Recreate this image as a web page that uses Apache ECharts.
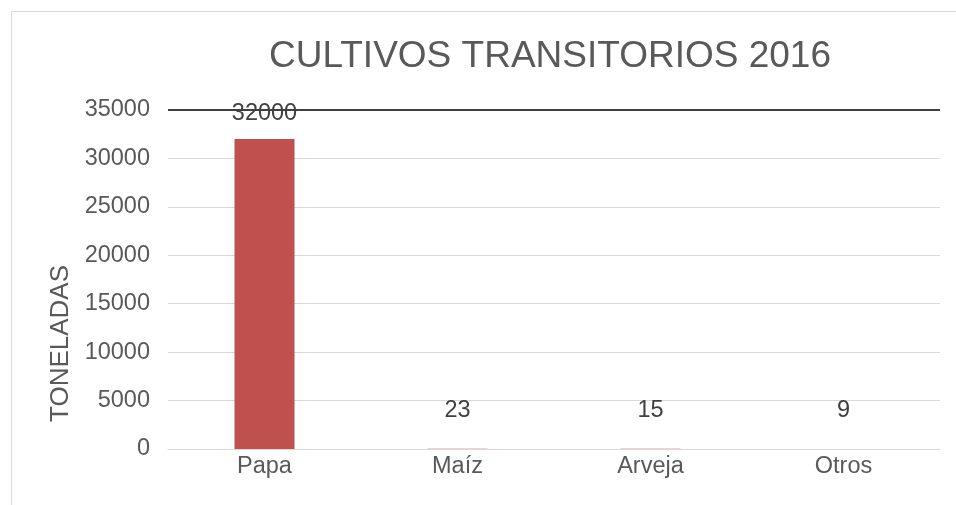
<!DOCTYPE html>
<html>
<head>
<meta charset="utf-8">
<script src="https://cdn.jsdelivr.net/npm/echarts@6/dist/echarts.min.js"></script>
<style>
  html, body { margin: 0; padding: 0; background: #fff; }
  #chart-container { width: 956px; height: 505px; }
</style>
</head>
<body>
<div id="chart-container"></div>
<script>
const categories = ['Papa', 'Maíz', 'Arveja', 'Otros'];
const toneladas = [32000, 23, 15, 9];
const yTicks = { min: 0, max: 35000, interval: 5000 };

var chartDom = document.getElementById('chart-container');
var myChart = echarts.init(chartDom);
var option;

option = {
    textStyle: { fontFamily: 'Liberation Sans, Arial, sans-serif' },
    title: {
        text: 'CULTIVOS TRANSITORIOS 2016',
        left: 545,
        textAlign: 'center',
        top: 33,
        textStyle: { fontSize: 37, fontWeight: 'normal', color: '#595959' }
    },
    graphic: [
        {
            type: 'rect',
            shape: { x: 11.5, y: 11.5, width: 1000, height: 600 },
            style: { fill: 'none', stroke: '#d9d9d9', lineWidth: 1 },
            silent: true
        }
    ],
    grid: { left: 168, right: 16, top: 110, bottom: 56 },
    xAxis: {
        type: 'category',
        data: categories,
        axisLine: { lineStyle: { color: '#d9d9d9', width: 1 } },
        axisTick: { show: false },
        axisLabel: { color: '#595959', fontSize: 23.5, margin: 6 }
    },
    yAxis: {
        type: 'value',
        min: yTicks.min,
        max: yTicks.max,
        interval: yTicks.interval,
        name: 'TONELADAS',
        nameLocation: 'middle',
        nameGap: 93,
        nameTextStyle: { color: '#595959', fontSize: 26, padding: [0, 128, 0, 0] },
        axisLine: { show: false },
        axisTick: { show: false },
        axisLabel: {
            color: '#595959',
            fontSize: 23.5,
            margin: 18,
            padding: [0, 0, 14, 0],
            formatter: (v) => String(v)
        },
        splitLine: { lineStyle: { color: '#d9d9d9', width: 1 } }
    },
    series: [
        {
            type: 'bar',
            barWidth: 60,
            itemStyle: { color: '#c0504d' },
            label: {
                show: true,
                position: 'top',
                color: '#404040',
                fontSize: 23.5
            },
            data: toneladas.map((v) => ({
                value: v,
                label: { distance: v > 1000 ? 14 : 26 }
            })),
            markLine: {
                silent: true,
                symbol: 'none',
                label: { show: false },
                lineStyle: { color: '#404040', width: 2, type: 'solid' },
                data: [{ yAxis: yTicks.max }]
            }
        }
    ]
};

option && myChart.setOption(option);
</script>
</body>
</html>
